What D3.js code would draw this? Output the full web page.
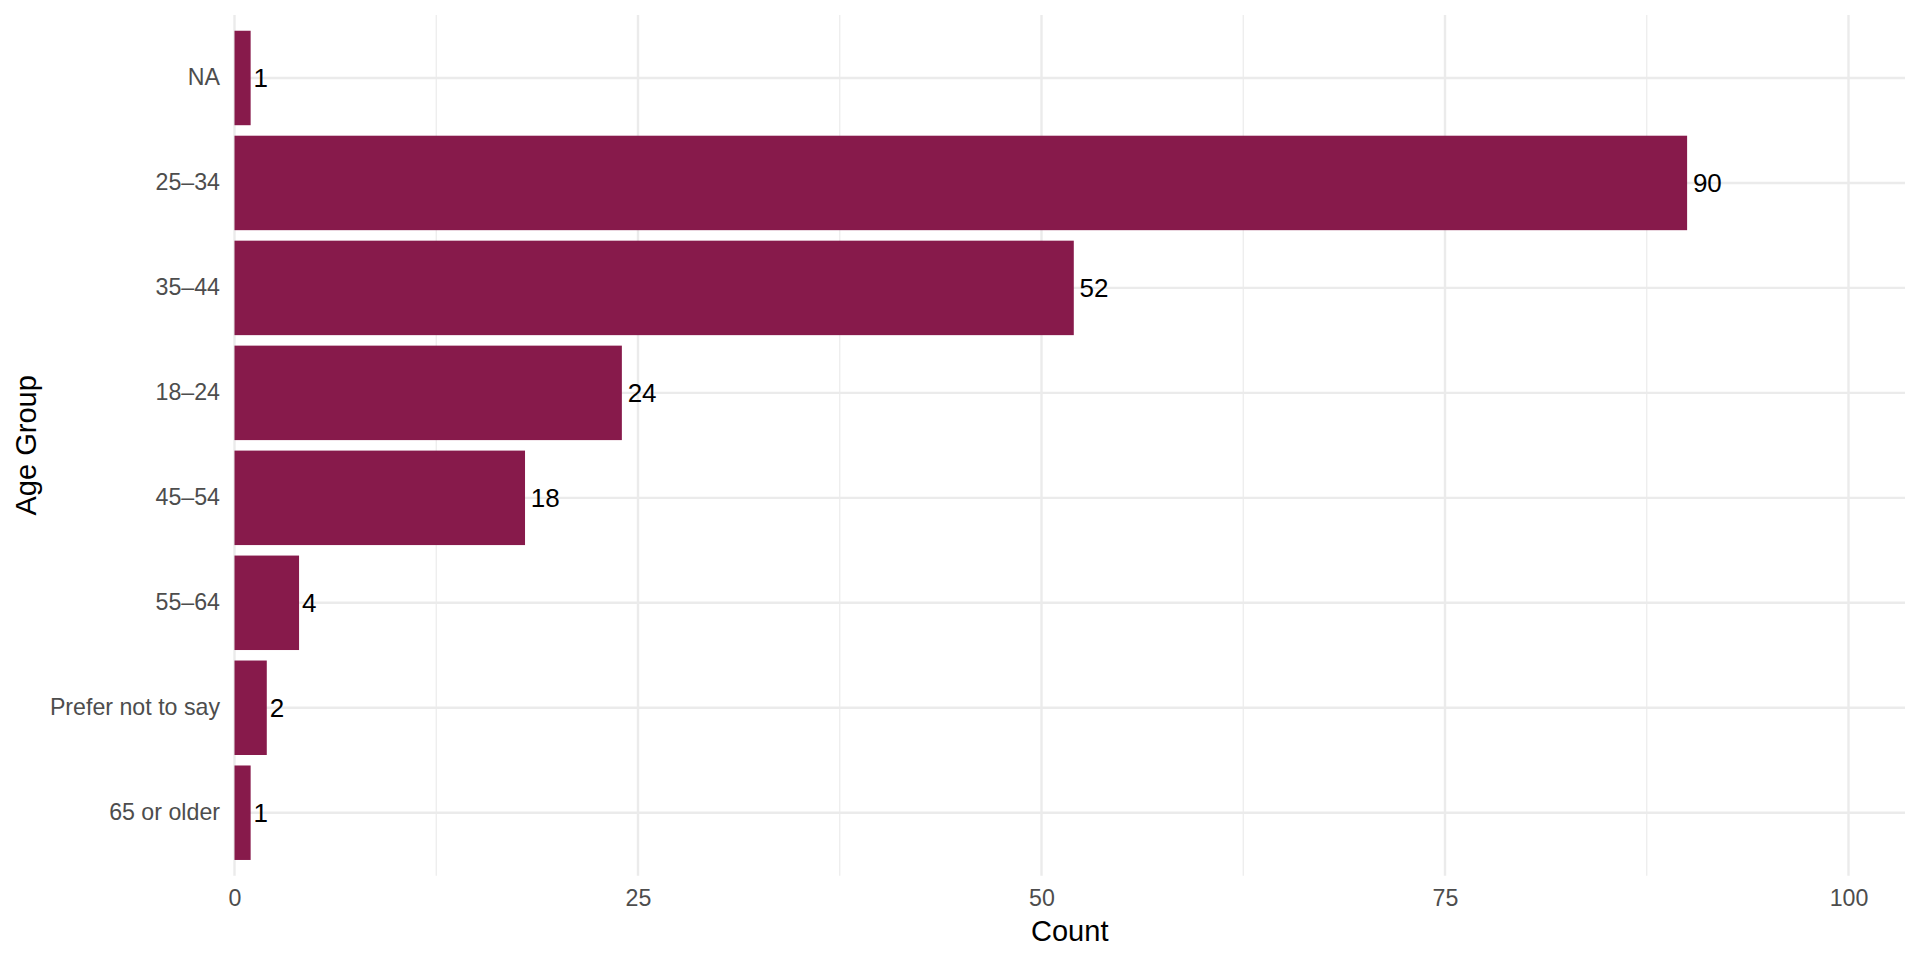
<!DOCTYPE html>
<html>
<head>
<meta charset="utf-8">
<script src="https://cdn.jsdelivr.net/npm/d3@7"></script>
<style>
  html, body { margin: 0; padding: 0; background: #fff; }
  svg { display: block; font-family: "Liberation Sans", Arial, sans-serif; }
</style>
</head>
<body>
<svg id="chart" width="1920" height="960"></svg>
<script>
const categories = ["NA", "25–34", "35–44", "18–24", "45–54", "55–64", "Prefer not to say", "65 or older"];
const counts = [1, 90, 52, 24, 18, 4, 2, 1];
const xTicks = [0, 25, 50, 75, 100];
const xMinorTicks = [12.5, 37.5, 62.5, 87.5];
const xTitle = "Count";
const yTitle = "Age Group";

const data = categories.map((c, i) => ({ cat: c, value: counts[i] }));

const svg = d3.select("#chart");
const panel = { left: 234.5, right: 1905, top: 15, bottom: 875.7 };

const x = d3.scaleLinear().domain([0, 103.5]).range([panel.left, panel.right]);
const y = d3.scaleBand().domain(categories).range([panel.top, panel.bottom])
  .paddingInner(0.1).paddingOuter(0.15);

const grid = svg.append("g");
grid.selectAll("line.minor").data(xMinorTicks).join("line")
  .attr("x1", d => x(d)).attr("x2", d => x(d))
  .attr("y1", panel.top).attr("y2", panel.bottom)
  .attr("stroke", "#EBEBEB").attr("stroke-width", 1.2);
grid.selectAll("line.majorx").data(xTicks).join("line")
  .attr("x1", d => x(d)).attr("x2", d => x(d))
  .attr("y1", panel.top).attr("y2", panel.bottom)
  .attr("stroke", "#EBEBEB").attr("stroke-width", 2.4);
grid.selectAll("line.majory").data(categories).join("line")
  .attr("x1", panel.left).attr("x2", panel.right)
  .attr("y1", d => y(d) + y.bandwidth() / 2).attr("y2", d => y(d) + y.bandwidth() / 2)
  .attr("stroke", "#EBEBEB").attr("stroke-width", 2.4);

svg.append("g").selectAll("rect").data(data).join("rect")
  .attr("x", x(0))
  .attr("y", d => y(d.cat))
  .attr("width", d => x(d.value) - x(0))
  .attr("height", y.bandwidth())
  .attr("fill", "#871A4B");

const labels = svg.append("g").selectAll("text").data(data).join("text")
  .attr("x", d => x(d.value))
  .attr("y", d => y(d.cat) + y.bandwidth() / 2)
  .attr("dy", "0.35em")
  .attr("font-size", 26)
  .attr("fill", "#000")
  .text(d => d.value);
labels.each(function() {
  const w = this.getComputedTextLength();
  d3.select(this).attr("dx", 0.2 * w);
});

const xAxis = svg.append("g")
  .attr("transform", `translate(0,${panel.bottom})`)
  .call(d3.axisBottom(x).tickValues(xTicks).tickSize(0).tickPadding(14));
xAxis.select(".domain").remove();
xAxis.selectAll("text").attr("font-size", 23.2).attr("fill", "#4D4D4D")
  .attr("font-family", "Liberation Sans, Arial, sans-serif");

const yAxis = svg.append("g")
  .attr("transform", `translate(${panel.left},0)`)
  .call(d3.axisLeft(y).tickSize(0).tickPadding(14.5));
yAxis.select(".domain").remove();
yAxis.selectAll("text").attr("font-size", 23.2).attr("fill", "#4D4D4D")
  .attr("font-family", "Liberation Sans, Arial, sans-serif");

svg.append("text")
  .attr("x", (panel.left + panel.right) / 2)
  .attr("y", 941)
  .attr("text-anchor", "middle")
  .attr("font-size", 29)
  .attr("fill", "#000")
  .text(xTitle);

svg.append("text")
  .attr("transform", `translate(35.8,${(panel.top + panel.bottom) / 2}) rotate(-90)`)
  .attr("text-anchor", "middle")
  .attr("font-size", 29)
  .attr("fill", "#000")
  .text(yTitle);
</script>
</body>
</html>
